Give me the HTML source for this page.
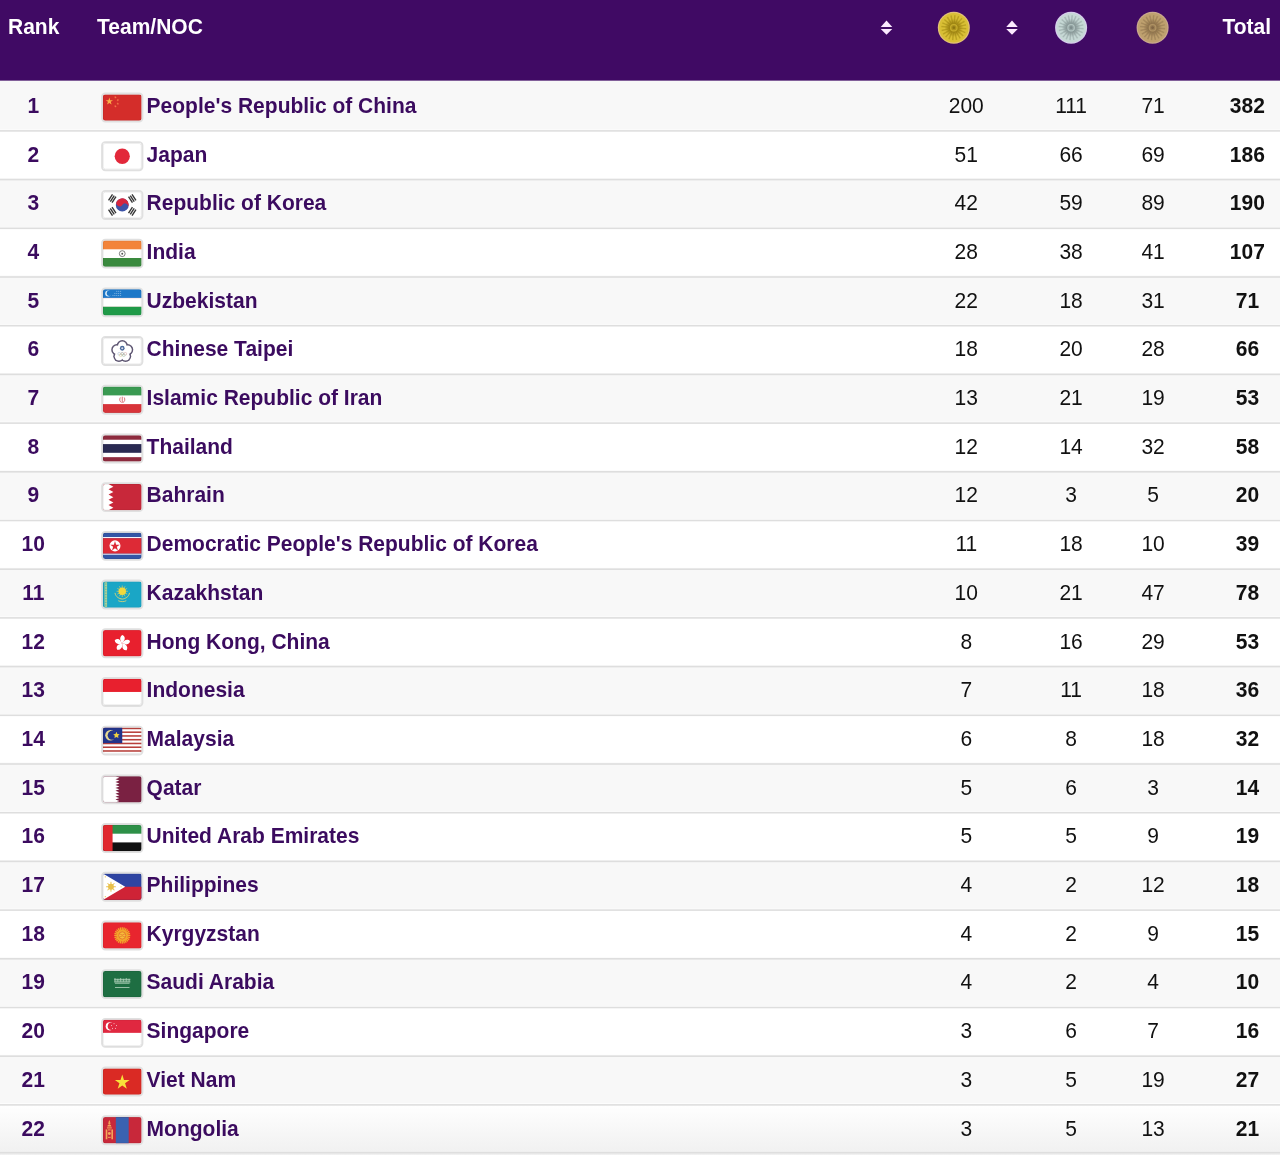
<!DOCTYPE html><html><head><meta charset="utf-8"><title>Medal Table</title><style>
*{margin:0;padding:0;box-sizing:border-box}
html,body{width:1280px;height:1155px;overflow:hidden;background:#fff}
body{font-family:"Liberation Sans",sans-serif;position:relative}
.bg{position:absolute;left:0;top:0;display:block}
.ht{position:absolute;top:0.7px;height:52px;line-height:52px;color:#fff;font-weight:bold;font-size:21.0px;white-space:nowrap}
.row{position:absolute;left:0;width:1280px;height:48.7px}
.c{position:absolute;top:0;height:47px;line-height:47px;font-size:21.0px;white-space:nowrap;padding-top:1.4px}
.rk{left:0;width:66.6px;text-align:center;color:#3b0b5f;font-weight:bold}
.nm{left:146.6px;color:#3b0b5f;font-weight:bold}
.n{width:80px;text-align:center;color:#111}
.tot{left:1207.4px;width:80px;text-align:center;font-weight:bold;color:#111}
.n,.tot,.rk{transform:scaleY(1.07);transform-origin:0 32.4px}
.nm{transform:scaleY(1.03);transform-origin:0 32.4px}
.ht{transform:scaleY(1.055);transform-origin:0 33.5px}
</style></head><body>
<svg class="bg" width="1280" height="1155" viewBox="0 0 1280 1155"><rect x="0" y="0" width="1280" height="80.8" fill="#400a64"/><rect x="0" y="80.80" width="1280" height="48.70" fill="#f8f8f8"/><rect x="0" y="178.20" width="1280" height="48.70" fill="#f8f8f8"/><rect x="0" y="275.60" width="1280" height="48.70" fill="#f8f8f8"/><rect x="0" y="373.00" width="1280" height="48.70" fill="#f8f8f8"/><rect x="0" y="470.40" width="1280" height="48.70" fill="#f8f8f8"/><rect x="0" y="567.80" width="1280" height="48.70" fill="#f8f8f8"/><rect x="0" y="665.20" width="1280" height="48.70" fill="#f8f8f8"/><rect x="0" y="762.60" width="1280" height="48.70" fill="#f8f8f8"/><rect x="0" y="860.00" width="1280" height="48.70" fill="#f8f8f8"/><rect x="0" y="957.40" width="1280" height="48.70" fill="#f8f8f8"/><rect x="0" y="1054.80" width="1280" height="48.70" fill="#f8f8f8"/><defs><linearGradient id="lastg" x1="0" y1="0" x2="0" y2="1"><stop offset="0" stop-color="#ffffff"/><stop offset="1" stop-color="#f0f0f0"/></linearGradient></defs><rect x="0" y="1103.50" width="1280" height="51.50" fill="url(#lastg)"/><rect x="0" y="130.10" width="1280" height="1.6" fill="#dedede"/><rect x="0" y="178.80" width="1280" height="1.6" fill="#dedede"/><rect x="0" y="227.50" width="1280" height="1.6" fill="#dedede"/><rect x="0" y="276.20" width="1280" height="1.6" fill="#dedede"/><rect x="0" y="324.90" width="1280" height="1.6" fill="#dedede"/><rect x="0" y="373.60" width="1280" height="1.6" fill="#dedede"/><rect x="0" y="422.30" width="1280" height="1.6" fill="#dedede"/><rect x="0" y="471.00" width="1280" height="1.6" fill="#dedede"/><rect x="0" y="519.70" width="1280" height="1.6" fill="#dedede"/><rect x="0" y="568.40" width="1280" height="1.6" fill="#dedede"/><rect x="0" y="617.10" width="1280" height="1.6" fill="#dedede"/><rect x="0" y="665.80" width="1280" height="1.6" fill="#dedede"/><rect x="0" y="714.50" width="1280" height="1.6" fill="#dedede"/><rect x="0" y="763.20" width="1280" height="1.6" fill="#dedede"/><rect x="0" y="811.90" width="1280" height="1.6" fill="#dedede"/><rect x="0" y="860.60" width="1280" height="1.6" fill="#dedede"/><rect x="0" y="909.30" width="1280" height="1.6" fill="#dedede"/><rect x="0" y="958.00" width="1280" height="1.6" fill="#dedede"/><rect x="0" y="1006.70" width="1280" height="1.6" fill="#dedede"/><rect x="0" y="1055.40" width="1280" height="1.6" fill="#dedede"/><rect x="0" y="1104.10" width="1280" height="1.6" fill="#dedede"/><rect x="0" y="1151.90" width="1280" height="1.6" fill="#dedede"/><path d="M886.50 20.40 L892.25 26.90 L880.75 26.90 Z" fill="#fbeaff"/><path d="M880.75 29.00 L892.25 29.00 L886.50 34.70 Z" fill="#fbeaff"/><path d="M1012.00 20.40 L1017.75 26.90 L1006.25 26.90 Z" fill="#fbeaff"/><path d="M1006.25 29.00 L1017.75 29.00 L1012.00 34.70 Z" fill="#fbeaff"/><defs><radialGradient id="gm" cx="953.80" cy="27.70" r="15" gradientUnits="userSpaceOnUse"><stop offset="0" stop-color="#ac921e"/><stop offset="0.3" stop-color="#ac921e"/><stop offset="0.62" stop-color="#d9bf36"/><stop offset="1" stop-color="#d9bf36"/></radialGradient><filter id="fgm" x="-20%" y="-20%" width="140%" height="140%"><feGaussianBlur stdDeviation="0.6"/></filter><filter id="hgm" x="-20%" y="-20%" width="140%" height="140%"><feGaussianBlur stdDeviation="0.5"/></filter></defs><g filter="url(#fgm)"><circle cx="953.80" cy="27.70" r="16" fill="#e2c178"/><circle cx="953.80" cy="27.70" r="14.8" fill="url(#gm)"/></g><g filter="url(#hgm)"><g stroke="#8a7210" stroke-width="1.5" opacity="0.38"><line x1="957.78" y1="28.05" x2="966.25" y2="28.79"/><line x1="957.48" y1="29.26" x2="965.31" y2="32.58"/><line x1="956.82" y1="30.32" x2="963.23" y2="35.90"/><line x1="955.86" y1="31.13" x2="960.24" y2="38.41"/><line x1="954.70" y1="31.60" x2="956.61" y2="39.88"/><line x1="953.45" y1="31.68" x2="952.71" y2="40.15"/><line x1="952.24" y1="31.38" x2="948.92" y2="39.21"/><line x1="951.18" y1="30.72" x2="945.60" y2="37.13"/><line x1="950.37" y1="29.76" x2="943.09" y2="34.14"/><line x1="949.90" y1="28.60" x2="941.62" y2="30.51"/><line x1="949.82" y1="27.35" x2="941.35" y2="26.61"/><line x1="950.12" y1="26.14" x2="942.29" y2="22.82"/><line x1="950.78" y1="25.08" x2="944.37" y2="19.50"/><line x1="951.74" y1="24.27" x2="947.36" y2="16.99"/><line x1="952.90" y1="23.80" x2="950.99" y2="15.52"/><line x1="954.15" y1="23.72" x2="954.89" y2="15.25"/><line x1="955.36" y1="24.02" x2="958.68" y2="16.19"/><line x1="956.42" y1="24.68" x2="962.00" y2="18.27"/><line x1="957.23" y1="25.64" x2="964.51" y2="21.26"/><line x1="957.70" y1="26.80" x2="965.98" y2="24.89"/></g><circle cx="953.80" cy="27.70" r="3.2" fill="none" stroke="#d9bf36" stroke-width="1.2" opacity="0.6"/><circle cx="953.80" cy="27.70" r="1.4" fill="#8a7210" opacity="0.9"/></g><defs><radialGradient id="sm" cx="1071.10" cy="27.70" r="15" gradientUnits="userSpaceOnUse"><stop offset="0" stop-color="#93a3a2"/><stop offset="0.3" stop-color="#93a3a2"/><stop offset="0.62" stop-color="#c6d8d5"/><stop offset="1" stop-color="#c6d8d5"/></radialGradient><filter id="fsm" x="-20%" y="-20%" width="140%" height="140%"><feGaussianBlur stdDeviation="0.6"/></filter><filter id="hsm" x="-20%" y="-20%" width="140%" height="140%"><feGaussianBlur stdDeviation="0.5"/></filter></defs><g filter="url(#fsm)"><circle cx="1071.10" cy="27.70" r="16" fill="#d6cdec"/><circle cx="1071.10" cy="27.70" r="14.8" fill="url(#sm)"/></g><g filter="url(#hsm)"><g stroke="#7a8a8a" stroke-width="1.5" opacity="0.38"><line x1="1075.08" y1="28.05" x2="1083.55" y2="28.79"/><line x1="1074.78" y1="29.26" x2="1082.61" y2="32.58"/><line x1="1074.12" y1="30.32" x2="1080.53" y2="35.90"/><line x1="1073.16" y1="31.13" x2="1077.54" y2="38.41"/><line x1="1072.00" y1="31.60" x2="1073.91" y2="39.88"/><line x1="1070.75" y1="31.68" x2="1070.01" y2="40.15"/><line x1="1069.54" y1="31.38" x2="1066.22" y2="39.21"/><line x1="1068.48" y1="30.72" x2="1062.90" y2="37.13"/><line x1="1067.67" y1="29.76" x2="1060.39" y2="34.14"/><line x1="1067.20" y1="28.60" x2="1058.92" y2="30.51"/><line x1="1067.12" y1="27.35" x2="1058.65" y2="26.61"/><line x1="1067.42" y1="26.14" x2="1059.59" y2="22.82"/><line x1="1068.08" y1="25.08" x2="1061.67" y2="19.50"/><line x1="1069.04" y1="24.27" x2="1064.66" y2="16.99"/><line x1="1070.20" y1="23.80" x2="1068.29" y2="15.52"/><line x1="1071.45" y1="23.72" x2="1072.19" y2="15.25"/><line x1="1072.66" y1="24.02" x2="1075.98" y2="16.19"/><line x1="1073.72" y1="24.68" x2="1079.30" y2="18.27"/><line x1="1074.53" y1="25.64" x2="1081.81" y2="21.26"/><line x1="1075.00" y1="26.80" x2="1083.28" y2="24.89"/></g><circle cx="1071.10" cy="27.70" r="3.2" fill="none" stroke="#c6d8d5" stroke-width="1.2" opacity="0.6"/><circle cx="1071.10" cy="27.70" r="1.4" fill="#7a8a8a" opacity="0.9"/></g><defs><radialGradient id="bm" cx="1152.60" cy="27.70" r="15" gradientUnits="userSpaceOnUse"><stop offset="0" stop-color="#9a7e54"/><stop offset="0.3" stop-color="#9a7e54"/><stop offset="0.62" stop-color="#bea06e"/><stop offset="1" stop-color="#bea06e"/></radialGradient><filter id="fbm" x="-20%" y="-20%" width="140%" height="140%"><feGaussianBlur stdDeviation="0.6"/></filter><filter id="hbm" x="-20%" y="-20%" width="140%" height="140%"><feGaussianBlur stdDeviation="0.5"/></filter></defs><g filter="url(#fbm)"><circle cx="1152.60" cy="27.70" r="16" fill="#c9a88e"/><circle cx="1152.60" cy="27.70" r="14.8" fill="url(#bm)"/></g><g filter="url(#hbm)"><g stroke="#7c6242" stroke-width="1.5" opacity="0.38"><line x1="1156.58" y1="28.05" x2="1165.05" y2="28.79"/><line x1="1156.28" y1="29.26" x2="1164.11" y2="32.58"/><line x1="1155.62" y1="30.32" x2="1162.03" y2="35.90"/><line x1="1154.66" y1="31.13" x2="1159.04" y2="38.41"/><line x1="1153.50" y1="31.60" x2="1155.41" y2="39.88"/><line x1="1152.25" y1="31.68" x2="1151.51" y2="40.15"/><line x1="1151.04" y1="31.38" x2="1147.72" y2="39.21"/><line x1="1149.98" y1="30.72" x2="1144.40" y2="37.13"/><line x1="1149.17" y1="29.76" x2="1141.89" y2="34.14"/><line x1="1148.70" y1="28.60" x2="1140.42" y2="30.51"/><line x1="1148.62" y1="27.35" x2="1140.15" y2="26.61"/><line x1="1148.92" y1="26.14" x2="1141.09" y2="22.82"/><line x1="1149.58" y1="25.08" x2="1143.17" y2="19.50"/><line x1="1150.54" y1="24.27" x2="1146.16" y2="16.99"/><line x1="1151.70" y1="23.80" x2="1149.79" y2="15.52"/><line x1="1152.95" y1="23.72" x2="1153.69" y2="15.25"/><line x1="1154.16" y1="24.02" x2="1157.48" y2="16.19"/><line x1="1155.22" y1="24.68" x2="1160.80" y2="18.27"/><line x1="1156.03" y1="25.64" x2="1163.31" y2="21.26"/><line x1="1156.50" y1="26.80" x2="1164.78" y2="24.89"/></g><circle cx="1152.60" cy="27.70" r="3.2" fill="none" stroke="#bea06e" stroke-width="1.2" opacity="0.6"/><circle cx="1152.60" cy="27.70" r="1.4" fill="#7c6242" opacity="0.9"/></g><rect x="102.00" y="93.50" width="40.50" height="28.10" rx="3.3" fill="#fff" stroke="#e0e0e0" stroke-width="1.8"/><clipPath id="ccn"><rect x="102.90" y="94.40" width="38.7" height="26.3" rx="2.4"/></clipPath><g clip-path="url(#ccn)"><g transform="translate(102.90 94.40) scale(0.80625 0.82188)"><rect width="48" height="32" fill="#d42d2a"/><polygon points="8.00,3.70 9.08,7.02 12.57,7.02 9.74,9.07 10.82,12.38 8.00,10.33 5.18,12.38 6.26,9.07 3.43,7.02 6.92,7.02" fill="#fbb04a"/><polygon points="16.08,2.00 16.04,3.24 17.20,3.66 16.01,4.00 15.97,5.23 15.28,4.21 14.09,4.55 14.85,3.58 14.16,2.55 15.32,2.98" fill="#f7804e"/><polygon points="19.59,5.70 19.13,6.84 20.08,7.64 18.84,7.55 18.38,8.70 18.08,7.50 16.85,7.41 17.90,6.76 17.60,5.56 18.55,6.35" fill="#f7804e"/><polygon points="18.50,9.50 18.88,10.67 20.12,10.67 19.12,11.40 19.50,12.58 18.50,11.85 17.50,12.58 17.88,11.40 16.88,10.67 18.12,10.67" fill="#f7804e"/><polygon points="16.08,12.90 16.04,14.14 17.20,14.56 16.01,14.90 15.97,16.13 15.28,15.11 14.09,15.45 14.85,14.48 14.16,13.45 15.32,13.88" fill="#f7804e"/></g></g><rect x="103.25" y="94.75" width="38.00" height="25.60" rx="2.2" fill="none" stroke="rgba(0,0,0,0.10)" stroke-width="0.7"/><rect x="102.00" y="142.20" width="40.50" height="28.10" rx="3.3" fill="#fff" stroke="#e0e0e0" stroke-width="1.8"/><clipPath id="cjp"><rect x="102.90" y="143.10" width="38.7" height="26.3" rx="2.4"/></clipPath><g clip-path="url(#cjp)"><g transform="translate(102.90 143.10) scale(0.80625 0.82188)"><rect width="48" height="32" fill="#fff"/><circle cx="24" cy="16" r="9.4" fill="#e2283a"/></g></g><rect x="103.25" y="143.45" width="38.00" height="25.60" rx="2.2" fill="none" stroke="rgba(0,0,0,0.10)" stroke-width="0.7"/><rect x="102.00" y="190.90" width="40.50" height="28.10" rx="3.3" fill="#fff" stroke="#e0e0e0" stroke-width="1.8"/><clipPath id="ckr"><rect x="102.90" y="191.80" width="38.7" height="26.3" rx="2.4"/></clipPath><g clip-path="url(#ckr)"><g transform="translate(102.90 191.80) scale(0.80625 0.82188)"><rect width="48" height="32" fill="#fff"/><circle cx="24" cy="16" r="8" fill="#3c53a8"/><path d="M16 16 A8 8 0 0 1 32 16 A4 4 0 0 0 24 16 A4 4 0 0 1 16 16Z" fill="#d6263e" transform="rotate(33.7 24 16)"/><g transform="translate(11.60 8.20) rotate(-56.3)"><rect x="-4.4" y="-3.45" width="8.8" height="1.7" fill="#353535"/><rect x="-4.4" y="-0.85" width="8.8" height="1.7" fill="#353535"/><rect x="-4.4" y="1.75" width="8.8" height="1.7" fill="#353535"/></g><g transform="translate(36.40 8.20) rotate(56.3)"><rect x="-4.4" y="-3.45" width="8.8" height="1.7" fill="#353535"/><rect x="-4.4" y="-0.85" width="8.8" height="1.7" fill="#353535"/><rect x="-4.4" y="1.75" width="8.8" height="1.7" fill="#353535"/></g><g transform="translate(11.60 23.80) rotate(56.3)"><rect x="-4.4" y="-3.45" width="8.8" height="1.7" fill="#353535"/><rect x="-4.4" y="-0.85" width="8.8" height="1.7" fill="#353535"/><rect x="-4.4" y="1.75" width="8.8" height="1.7" fill="#353535"/></g><g transform="translate(36.40 23.80) rotate(-56.3)"><rect x="-4.4" y="-3.45" width="8.8" height="1.7" fill="#353535"/><rect x="-4.4" y="-0.85" width="8.8" height="1.7" fill="#353535"/><rect x="-4.4" y="1.75" width="8.8" height="1.7" fill="#353535"/></g></g></g><rect x="103.25" y="192.15" width="38.00" height="25.60" rx="2.2" fill="none" stroke="rgba(0,0,0,0.10)" stroke-width="0.7"/><rect x="102.00" y="239.60" width="40.50" height="28.10" rx="3.3" fill="#fff" stroke="#e0e0e0" stroke-width="1.8"/><clipPath id="cin"><rect x="102.90" y="240.50" width="38.7" height="26.3" rx="2.4"/></clipPath><g clip-path="url(#cin)"><g transform="translate(102.90 240.50) scale(0.80625 0.82188)"><rect width="48" height="32" fill="#fff"/><rect width="48" height="10.7" fill="#f3843a"/><rect y="21.3" width="48" height="10.7" fill="#3a8a3e"/><circle cx="24" cy="16" r="3.6" fill="none" stroke="#555" stroke-width="0.9"/><circle cx="24" cy="16" r="1.2" fill="#555"/></g></g><rect x="103.25" y="240.85" width="38.00" height="25.60" rx="2.2" fill="none" stroke="rgba(0,0,0,0.10)" stroke-width="0.7"/><rect x="102.00" y="288.30" width="40.50" height="28.10" rx="3.3" fill="#fff" stroke="#e0e0e0" stroke-width="1.8"/><clipPath id="cuz"><rect x="102.90" y="289.20" width="38.7" height="26.3" rx="2.4"/></clipPath><g clip-path="url(#cuz)"><g transform="translate(102.90 289.20) scale(0.80625 0.82188)"><rect width="48" height="32" fill="#fff"/><rect width="48" height="10.6" fill="#1f78c8"/><rect y="10.6" width="48" height="0.6" fill="#e07a7a" opacity="0.35"/><rect y="20.8" width="48" height="0.6" fill="#e07a7a" opacity="0.35"/><rect y="21.4" width="48" height="10.6" fill="#1f9a48"/><circle cx="6.5" cy="5.3" r="3.7" fill="#d8ecfa"/><circle cx="8.1" cy="5.0" r="3.3" fill="#1f78c8"/><circle cx="12.5" cy="7.6" r="0.6" fill="#cfe4f5"/><circle cx="14.9" cy="5.1" r="0.6" fill="#cfe4f5"/><circle cx="14.9" cy="7.6" r="0.6" fill="#cfe4f5"/><circle cx="17.3" cy="2.6" r="0.6" fill="#cfe4f5"/><circle cx="17.3" cy="5.1" r="0.6" fill="#cfe4f5"/><circle cx="17.3" cy="7.6" r="0.6" fill="#cfe4f5"/><circle cx="19.7" cy="2.6" r="0.6" fill="#cfe4f5"/><circle cx="19.7" cy="5.1" r="0.6" fill="#cfe4f5"/><circle cx="19.7" cy="7.6" r="0.6" fill="#cfe4f5"/><circle cx="22.1" cy="2.6" r="0.6" fill="#cfe4f5"/><circle cx="22.1" cy="5.1" r="0.6" fill="#cfe4f5"/><circle cx="22.1" cy="7.6" r="0.6" fill="#cfe4f5"/></g></g><rect x="103.25" y="289.55" width="38.00" height="25.60" rx="2.2" fill="none" stroke="rgba(0,0,0,0.10)" stroke-width="0.7"/><rect x="102.00" y="337.00" width="40.50" height="28.10" rx="3.3" fill="#fff" stroke="#e0e0e0" stroke-width="1.8"/><clipPath id="ctpe"><rect x="102.90" y="337.90" width="38.7" height="26.3" rx="2.4"/></clipPath><g clip-path="url(#ctpe)"><g transform="translate(102.90 337.90) scale(0.80625 0.82188)"><rect width="48" height="32" fill="#fff"/><circle cx="24.00" cy="9.60" r="7.0" fill="#5e5672"/><circle cx="30.66" cy="14.44" r="7.0" fill="#5e5672"/><circle cx="28.11" cy="22.26" r="7.0" fill="#5e5672"/><circle cx="19.89" cy="22.26" r="7.0" fill="#5e5672"/><circle cx="17.34" cy="14.44" r="7.0" fill="#5e5672"/><circle cx="24.00" cy="9.60" r="5.2" fill="#fff"/><circle cx="30.66" cy="14.44" r="5.2" fill="#fff"/><circle cx="28.11" cy="22.26" r="5.2" fill="#fff"/><circle cx="19.89" cy="22.26" r="5.2" fill="#fff"/><circle cx="17.34" cy="14.44" r="5.2" fill="#fff"/><circle cx="24" cy="16.6" r="7.2" fill="#fff"/><circle cx="24" cy="12.6" r="2.9" fill="#4a6a9a"/><circle cx="24" cy="12.6" r="1.3" fill="#dde"/><g fill="none" stroke-width="0.7" opacity="0.7"><circle cx="20.2" cy="19.4" r="1.7" stroke="#8aa0c0"/><circle cx="24" cy="19.4" r="1.7" stroke="#666"/><circle cx="27.8" cy="19.4" r="1.7" stroke="#c08080"/><circle cx="22.1" cy="21" r="1.7" stroke="#d0b870"/><circle cx="25.9" cy="21" r="1.7" stroke="#80a888"/></g></g></g><rect x="103.25" y="338.25" width="38.00" height="25.60" rx="2.2" fill="none" stroke="rgba(0,0,0,0.10)" stroke-width="0.7"/><rect x="102.00" y="385.70" width="40.50" height="28.10" rx="3.3" fill="#fff" stroke="#e0e0e0" stroke-width="1.8"/><clipPath id="cir"><rect x="102.90" y="386.60" width="38.7" height="26.3" rx="2.4"/></clipPath><g clip-path="url(#cir)"><g transform="translate(102.90 386.60) scale(0.80625 0.82188)"><rect width="48" height="32" fill="#fff"/><rect width="48" height="10.7" fill="#3a9a52"/><rect y="21.3" width="48" height="10.7" fill="#d8343a"/><path d="M24 12.3 V19.8 M21.6 13.2 C20.2 15.5 20.8 18.3 23 19.3 M26.4 13.2 C27.8 15.5 27.2 18.3 25 19.3" stroke="#d04048" stroke-width="0.9" fill="none"/></g></g><rect x="103.25" y="386.95" width="38.00" height="25.60" rx="2.2" fill="none" stroke="rgba(0,0,0,0.10)" stroke-width="0.7"/><rect x="102.00" y="434.40" width="40.50" height="28.10" rx="3.3" fill="#fff" stroke="#e0e0e0" stroke-width="1.8"/><clipPath id="cth"><rect x="102.90" y="435.30" width="38.7" height="26.3" rx="2.4"/></clipPath><g clip-path="url(#cth)"><g transform="translate(102.90 435.30) scale(0.80625 0.82188)"><rect width="48" height="32" fill="#fff"/><rect width="48" height="5.4" fill="#8e2b3e"/><rect y="26.6" width="48" height="5.4" fill="#8e2b3e"/><rect y="10.7" width="48" height="10.6" fill="#2a2a52"/></g></g><rect x="103.25" y="435.65" width="38.00" height="25.60" rx="2.2" fill="none" stroke="rgba(0,0,0,0.10)" stroke-width="0.7"/><rect x="102.00" y="483.10" width="40.50" height="28.10" rx="3.3" fill="#fff" stroke="#e0e0e0" stroke-width="1.8"/><clipPath id="cbh"><rect x="102.90" y="484.00" width="38.7" height="26.3" rx="2.4"/></clipPath><g clip-path="url(#cbh)"><g transform="translate(102.90 484.00) scale(0.80625 0.82188)"><rect width="48" height="32" fill="#c8283a"/><polygon points="0,0 7.00,0 13.00,3.20 7.00,6.40 13.00,9.60 7.00,12.80 13.00,16.00 7.00,19.20 13.00,22.40 7.00,25.60 13.00,28.80 7.00,32.00 0,32" fill="#fff"/></g></g><rect x="103.25" y="484.35" width="38.00" height="25.60" rx="2.2" fill="none" stroke="rgba(0,0,0,0.10)" stroke-width="0.7"/><rect x="102.00" y="531.80" width="40.50" height="28.10" rx="3.3" fill="#fff" stroke="#e0e0e0" stroke-width="1.8"/><clipPath id="ckp"><rect x="102.90" y="532.70" width="38.7" height="26.3" rx="2.4"/></clipPath><g clip-path="url(#ckp)"><g transform="translate(102.90 532.70) scale(0.80625 0.82188)"><rect width="48" height="32" fill="#3356a6"/><rect y="5.3" width="48" height="1.4" fill="#fff"/><rect y="25.3" width="48" height="1.4" fill="#fff"/><rect y="6.7" width="48" height="18.6" fill="#dd2a36"/><circle cx="15" cy="16" r="6.8" fill="#fff"/><polygon points="15.00,10.20 16.41,14.55 20.99,14.55 17.29,17.24 18.70,21.60 15.00,18.91 11.30,21.60 12.71,17.24 9.01,14.55 13.59,14.55" fill="#dd2a36"/></g></g><rect x="103.25" y="533.05" width="38.00" height="25.60" rx="2.2" fill="none" stroke="rgba(0,0,0,0.10)" stroke-width="0.7"/><rect x="102.00" y="580.50" width="40.50" height="28.10" rx="3.3" fill="#fff" stroke="#e0e0e0" stroke-width="1.8"/><clipPath id="ckz"><rect x="102.90" y="581.40" width="38.7" height="26.3" rx="2.4"/></clipPath><g clip-path="url(#ckz)"><g transform="translate(102.90 581.40) scale(0.80625 0.82188)"><rect width="48" height="32" fill="#1aa6c6"/><rect x="2" y="1" width="3.2" height="30" fill="#c9d88a" opacity="0.85"/><rect x="2.6" y="2.5" width="2" height="1.4" fill="#1aa6c6" opacity="0.5"/><rect x="2.6" y="5.7" width="2" height="1.4" fill="#1aa6c6" opacity="0.5"/><rect x="2.6" y="8.9" width="2" height="1.4" fill="#1aa6c6" opacity="0.5"/><rect x="2.6" y="12.1" width="2" height="1.4" fill="#1aa6c6" opacity="0.5"/><rect x="2.6" y="15.3" width="2" height="1.4" fill="#1aa6c6" opacity="0.5"/><rect x="2.6" y="18.5" width="2" height="1.4" fill="#1aa6c6" opacity="0.5"/><rect x="2.6" y="21.7" width="2" height="1.4" fill="#1aa6c6" opacity="0.5"/><rect x="2.6" y="24.9" width="2" height="1.4" fill="#1aa6c6" opacity="0.5"/><rect x="2.6" y="28.1" width="2" height="1.4" fill="#1aa6c6" opacity="0.5"/><line x1="24" y1="12" x2="31.00" y2="12.00" stroke="#e8d060" stroke-width="0.8"/><line x1="24" y1="12" x2="30.06" y2="15.50" stroke="#e8d060" stroke-width="0.8"/><line x1="24" y1="12" x2="27.50" y2="18.06" stroke="#e8d060" stroke-width="0.8"/><line x1="24" y1="12" x2="24.00" y2="19.00" stroke="#e8d060" stroke-width="0.8"/><line x1="24" y1="12" x2="20.50" y2="18.06" stroke="#e8d060" stroke-width="0.8"/><line x1="24" y1="12" x2="17.94" y2="15.50" stroke="#e8d060" stroke-width="0.8"/><line x1="24" y1="12" x2="17.00" y2="12.00" stroke="#e8d060" stroke-width="0.8"/><line x1="24" y1="12" x2="17.94" y2="8.50" stroke="#e8d060" stroke-width="0.8"/><line x1="24" y1="12" x2="20.50" y2="5.94" stroke="#e8d060" stroke-width="0.8"/><line x1="24" y1="12" x2="24.00" y2="5.00" stroke="#e8d060" stroke-width="0.8"/><line x1="24" y1="12" x2="27.50" y2="5.94" stroke="#e8d060" stroke-width="0.8"/><line x1="24" y1="12" x2="30.06" y2="8.50" stroke="#e8d060" stroke-width="0.8"/><circle cx="24" cy="12" r="4.6" fill="#f2d83c"/><path d="M15 14 C16 19 20 21 24 21.5 C28 21 32 19 33 14" stroke="#e2d470" stroke-width="1.1" fill="none"/><path d="M19 23.5 C22 25 26 25 29 23.5" stroke="#e2d470" stroke-width="1" fill="none"/></g></g><rect x="103.25" y="581.75" width="38.00" height="25.60" rx="2.2" fill="none" stroke="rgba(0,0,0,0.10)" stroke-width="0.7"/><rect x="102.00" y="629.20" width="40.50" height="28.10" rx="3.3" fill="#fff" stroke="#e0e0e0" stroke-width="1.8"/><clipPath id="chk"><rect x="102.90" y="630.10" width="38.7" height="26.3" rx="2.4"/></clipPath><g clip-path="url(#chk)"><g transform="translate(102.90 630.10) scale(0.80625 0.82188)"><rect width="48" height="32" fill="#e8202e"/><path d="M24 16 C20.5 13 20.5 7.5 24.5 6 C27.5 7.5 28 11 26 13 Z" fill="#fff" transform="rotate(0 24 16)"/><path d="M24 16 C20.5 13 20.5 7.5 24.5 6 C27.5 7.5 28 11 26 13 Z" fill="#fff" transform="rotate(72 24 16)"/><path d="M24 16 C20.5 13 20.5 7.5 24.5 6 C27.5 7.5 28 11 26 13 Z" fill="#fff" transform="rotate(144 24 16)"/><path d="M24 16 C20.5 13 20.5 7.5 24.5 6 C27.5 7.5 28 11 26 13 Z" fill="#fff" transform="rotate(216 24 16)"/><path d="M24 16 C20.5 13 20.5 7.5 24.5 6 C27.5 7.5 28 11 26 13 Z" fill="#fff" transform="rotate(288 24 16)"/></g></g><rect x="103.25" y="630.45" width="38.00" height="25.60" rx="2.2" fill="none" stroke="rgba(0,0,0,0.10)" stroke-width="0.7"/><rect x="102.00" y="677.90" width="40.50" height="28.10" rx="3.3" fill="#fff" stroke="#e0e0e0" stroke-width="1.8"/><clipPath id="cid"><rect x="102.90" y="678.80" width="38.7" height="26.3" rx="2.4"/></clipPath><g clip-path="url(#cid)"><g transform="translate(102.90 678.80) scale(0.80625 0.82188)"><rect width="48" height="32" fill="#fff"/><rect width="48" height="16" fill="#e8202e"/></g></g><rect x="103.25" y="679.15" width="38.00" height="25.60" rx="2.2" fill="none" stroke="rgba(0,0,0,0.10)" stroke-width="0.7"/><rect x="102.00" y="726.60" width="40.50" height="28.10" rx="3.3" fill="#fff" stroke="#e0e0e0" stroke-width="1.8"/><clipPath id="cmy"><rect x="102.90" y="727.50" width="38.7" height="26.3" rx="2.4"/></clipPath><g clip-path="url(#cmy)"><g transform="translate(102.90 727.50) scale(0.80625 0.82188)"><rect width="48" height="32" fill="#fff"/><rect y="0.20" width="48" height="1.89" fill="#b8403c"/><rect y="4.77" width="48" height="1.89" fill="#b8403c"/><rect y="9.34" width="48" height="1.89" fill="#b8403c"/><rect y="13.91" width="48" height="1.89" fill="#b8403c"/><rect y="18.49" width="48" height="1.89" fill="#b8403c"/><rect y="23.06" width="48" height="1.89" fill="#b8403c"/><rect y="27.63" width="48" height="1.89" fill="#b8403c"/><rect width="24" height="19" fill="#22338a"/><circle cx="9.3" cy="9.5" r="6.4" fill="#e6d890"/><circle cx="11.3" cy="9.5" r="5.4" fill="#22338a"/><polygon points="16.80,5.30 18.03,7.80 20.79,8.20 18.80,10.15 19.27,12.90 16.80,11.60 14.33,12.90 14.80,10.15 12.81,8.20 15.57,7.80" fill="#f0d040"/></g></g><rect x="103.25" y="727.85" width="38.00" height="25.60" rx="2.2" fill="none" stroke="rgba(0,0,0,0.10)" stroke-width="0.7"/><rect x="102.00" y="775.30" width="40.50" height="28.10" rx="3.3" fill="#fff" stroke="#e0e0e0" stroke-width="1.8"/><clipPath id="cqa"><rect x="102.90" y="776.20" width="38.7" height="26.3" rx="2.4"/></clipPath><g clip-path="url(#cqa)"><g transform="translate(102.90 776.20) scale(0.80625 0.82188)"><rect width="48" height="32" fill="#7a2142"/><polygon points="0,0 15.50,0 20.50,1.78 15.50,3.56 20.50,5.33 15.50,7.11 20.50,8.89 15.50,10.67 20.50,12.44 15.50,14.22 20.50,16.00 15.50,17.78 20.50,19.56 15.50,21.33 20.50,23.11 15.50,24.89 20.50,26.67 15.50,28.44 20.50,30.22 15.50,32.00 0,32" fill="#fff"/></g></g><rect x="103.25" y="776.55" width="38.00" height="25.60" rx="2.2" fill="none" stroke="rgba(0,0,0,0.10)" stroke-width="0.7"/><rect x="102.00" y="824.00" width="40.50" height="28.10" rx="3.3" fill="#fff" stroke="#e0e0e0" stroke-width="1.8"/><clipPath id="cae"><rect x="102.90" y="824.90" width="38.7" height="26.3" rx="2.4"/></clipPath><g clip-path="url(#cae)"><g transform="translate(102.90 824.90) scale(0.80625 0.82188)"><rect width="48" height="32" fill="#fff"/><rect width="48" height="10.7" fill="#2e9048"/><rect y="21.3" width="48" height="10.7" fill="#111"/><rect width="12" height="32" fill="#e0282e"/></g></g><rect x="103.25" y="825.25" width="38.00" height="25.60" rx="2.2" fill="none" stroke="rgba(0,0,0,0.10)" stroke-width="0.7"/><rect x="102.00" y="872.70" width="40.50" height="28.10" rx="3.3" fill="#fff" stroke="#e0e0e0" stroke-width="1.8"/><clipPath id="cph"><rect x="102.90" y="873.60" width="38.7" height="26.3" rx="2.4"/></clipPath><g clip-path="url(#cph)"><g transform="translate(102.90 873.60) scale(0.80625 0.82188)"><rect width="48" height="32" fill="#2e44a2"/><rect y="16" width="48" height="16" fill="#cf2336"/><polygon points="0,0 27.7,16 0,32" fill="#fff"/><rect x="9.4" y="10" width="1.2" height="12" fill="#e8c04a" transform="rotate(0 10 16)"/><rect x="9.4" y="10" width="1.2" height="12" fill="#e8c04a" transform="rotate(45 10 16)"/><rect x="9.4" y="10" width="1.2" height="12" fill="#e8c04a" transform="rotate(90 10 16)"/><rect x="9.4" y="10" width="1.2" height="12" fill="#e8c04a" transform="rotate(135 10 16)"/><circle cx="10" cy="16" r="3.6" fill="#e8c04a"/><polygon points="3.00,2.80 3.27,3.63 4.14,3.63 3.44,4.14 3.71,4.97 3.00,4.46 2.29,4.97 2.56,4.14 1.86,3.63 2.73,3.63" fill="#e8c04a"/><polygon points="3.00,26.80 3.27,27.63 4.14,27.63 3.44,28.14 3.71,28.97 3.00,28.46 2.29,28.97 2.56,28.14 1.86,27.63 2.73,27.63" fill="#e8c04a"/><polygon points="22.50,14.80 22.77,15.63 23.64,15.63 22.94,16.14 23.21,16.97 22.50,16.46 21.79,16.97 22.06,16.14 21.36,15.63 22.23,15.63" fill="#e8c04a"/></g></g><rect x="103.25" y="873.95" width="38.00" height="25.60" rx="2.2" fill="none" stroke="rgba(0,0,0,0.10)" stroke-width="0.7"/><rect x="102.00" y="921.40" width="40.50" height="28.10" rx="3.3" fill="#fff" stroke="#e0e0e0" stroke-width="1.8"/><clipPath id="ckg"><rect x="102.90" y="922.30" width="38.7" height="26.3" rx="2.4"/></clipPath><g clip-path="url(#ckg)"><g transform="translate(102.90 922.30) scale(0.80625 0.82188)"><rect width="48" height="32" fill="#e8252e"/><rect x="23.2" y="6" width="1.6" height="20" fill="#f2a82a" transform="rotate(0 24 16)"/><rect x="23.2" y="6" width="1.6" height="20" fill="#f2a82a" transform="rotate(15 24 16)"/><rect x="23.2" y="6" width="1.6" height="20" fill="#f2a82a" transform="rotate(30 24 16)"/><rect x="23.2" y="6" width="1.6" height="20" fill="#f2a82a" transform="rotate(45 24 16)"/><rect x="23.2" y="6" width="1.6" height="20" fill="#f2a82a" transform="rotate(60 24 16)"/><rect x="23.2" y="6" width="1.6" height="20" fill="#f2a82a" transform="rotate(75 24 16)"/><rect x="23.2" y="6" width="1.6" height="20" fill="#f2a82a" transform="rotate(90 24 16)"/><rect x="23.2" y="6" width="1.6" height="20" fill="#f2a82a" transform="rotate(105 24 16)"/><rect x="23.2" y="6" width="1.6" height="20" fill="#f2a82a" transform="rotate(120 24 16)"/><rect x="23.2" y="6" width="1.6" height="20" fill="#f2a82a" transform="rotate(135 24 16)"/><rect x="23.2" y="6" width="1.6" height="20" fill="#f2a82a" transform="rotate(150 24 16)"/><rect x="23.2" y="6" width="1.6" height="20" fill="#f2a82a" transform="rotate(165 24 16)"/><circle cx="24" cy="16" r="6.8" fill="#f2a82a"/><circle cx="24" cy="16" r="4.4" fill="#f5be3a" stroke="#e0602a" stroke-width="0.8"/><path d="M20.5 14 Q24 17 27.5 14 M20.5 18 Q24 15 27.5 18" stroke="#e0602a" stroke-width="0.7" fill="none"/></g></g><rect x="103.25" y="922.65" width="38.00" height="25.60" rx="2.2" fill="none" stroke="rgba(0,0,0,0.10)" stroke-width="0.7"/><rect x="102.00" y="970.10" width="40.50" height="28.10" rx="3.3" fill="#fff" stroke="#e0e0e0" stroke-width="1.8"/><clipPath id="csa"><rect x="102.90" y="971.00" width="38.7" height="26.3" rx="2.4"/></clipPath><g clip-path="url(#csa)"><g transform="translate(102.90 971.00) scale(0.80625 0.82188)"><rect width="48" height="32" fill="#1e6e42"/><g fill="none" stroke="#c0dcc8" stroke-width="0.9" opacity="0.9"><path d="M14 10.5 H34 M14 13.2 H34 M15 15 H33"/><path d="M15 8.5 V13 M18.5 9.5 V13 M22 8.5 V13 M25.5 9.5 V13 M29 8.5 V13 M32.5 9.5 V13"/></g><rect x="14" y="9" width="20" height="6" fill="#c0dcc8" opacity="0.25"/><rect x="15" y="19.6" width="18" height="0.8" fill="#d8eadc"/></g></g><rect x="103.25" y="971.35" width="38.00" height="25.60" rx="2.2" fill="none" stroke="rgba(0,0,0,0.10)" stroke-width="0.7"/><rect x="102.00" y="1018.80" width="40.50" height="28.10" rx="3.3" fill="#fff" stroke="#e0e0e0" stroke-width="1.8"/><clipPath id="csg"><rect x="102.90" y="1019.70" width="38.7" height="26.3" rx="2.4"/></clipPath><g clip-path="url(#csg)"><g transform="translate(102.90 1019.70) scale(0.80625 0.82188)"><rect width="48" height="32" fill="#fff"/><rect width="48" height="16" fill="#e02840"/><circle cx="8.5" cy="8" r="5" fill="#fff"/><circle cx="10.6" cy="8" r="4.6" fill="#e02840"/><polygon points="13.80,3.80 14.02,4.49 14.75,4.49 14.16,4.92 14.39,5.61 13.80,5.18 13.21,5.61 13.44,4.92 12.85,4.49 13.58,4.49" fill="#fff"/><polygon points="16.84,6.01 17.07,6.70 17.79,6.70 17.21,7.13 17.43,7.82 16.84,7.39 16.26,7.82 16.48,7.13 15.89,6.70 16.62,6.70" fill="#fff"/><polygon points="15.68,9.59 15.91,10.28 16.63,10.28 16.04,10.71 16.27,11.40 15.68,10.97 15.09,11.40 15.32,10.71 14.73,10.28 15.46,10.28" fill="#fff"/><polygon points="11.92,9.59 12.14,10.28 12.87,10.28 12.28,10.71 12.51,11.40 11.92,10.97 11.33,11.40 11.56,10.71 10.97,10.28 11.69,10.28" fill="#fff"/><polygon points="10.76,6.01 10.98,6.70 11.71,6.70 11.12,7.13 11.34,7.82 10.76,7.39 10.17,7.82 10.39,7.13 9.81,6.70 10.53,6.70" fill="#fff"/></g></g><rect x="103.25" y="1020.05" width="38.00" height="25.60" rx="2.2" fill="none" stroke="rgba(0,0,0,0.10)" stroke-width="0.7"/><rect x="102.00" y="1067.50" width="40.50" height="28.10" rx="3.3" fill="#fff" stroke="#e0e0e0" stroke-width="1.8"/><clipPath id="cvn"><rect x="102.90" y="1068.40" width="38.7" height="26.3" rx="2.4"/></clipPath><g clip-path="url(#cvn)"><g transform="translate(102.90 1068.40) scale(0.80625 0.82188)"><rect width="48" height="32" fill="#da2a24"/><polygon points="24.00,7.40 26.16,14.03 33.13,14.03 27.49,18.13 29.64,24.77 24.00,20.67 18.36,24.77 20.51,18.13 14.87,14.03 21.84,14.03" fill="#f8e03a"/></g></g><rect x="103.25" y="1068.75" width="38.00" height="25.60" rx="2.2" fill="none" stroke="rgba(0,0,0,0.10)" stroke-width="0.7"/><rect x="102.00" y="1116.20" width="40.50" height="28.10" rx="3.3" fill="#fff" stroke="#e0e0e0" stroke-width="1.8"/><clipPath id="cmn"><rect x="102.90" y="1117.10" width="38.7" height="26.3" rx="2.4"/></clipPath><g clip-path="url(#cmn)"><g transform="translate(102.90 1117.10) scale(0.80625 0.82188)"><rect width="48" height="32" fill="#c8283a"/><rect x="16" width="16" height="32" fill="#3a62b0"/><g fill="#f4a85a"><circle cx="8" cy="7.5" r="1.4"/><polygon points="8,3.5 9,6 7,6"/><path d="M5.5 11.5 A2.5 2.5 0 0 1 10.5 11.5Z"/><rect x="5" y="12.5" width="6" height="1.3"/><rect x="3.5" y="15" width="2" height="12"/><rect x="10.5" y="15" width="2" height="12"/><rect x="6.3" y="15" width="3.4" height="1.2"/><circle cx="8" cy="20" r="1.8"/><rect x="6.3" y="24" width="3.4" height="1.2"/></g></g></g><rect x="103.25" y="1117.45" width="38.00" height="25.60" rx="2.2" fill="none" stroke="rgba(0,0,0,0.10)" stroke-width="0.7"/></svg>
<div class="ht" style="left:8px">Rank</div>
<div class="ht" style="left:97px">Team/NOC</div>
<div class="ht" style="right:9px">Total</div>
<div class="row" style="top:80.80px"><div class="c rk">1</div><div class="c nm">People's Republic of China</div><div class="c n" style="left:926.3px">200</div><div class="c n" style="left:1031.1px">111</div><div class="c n" style="left:1113.1px">71</div><div class="c tot">382</div></div>
<div class="row" style="top:129.50px"><div class="c rk">2</div><div class="c nm">Japan</div><div class="c n" style="left:926.3px">51</div><div class="c n" style="left:1031.1px">66</div><div class="c n" style="left:1113.1px">69</div><div class="c tot">186</div></div>
<div class="row" style="top:178.20px"><div class="c rk">3</div><div class="c nm">Republic of Korea</div><div class="c n" style="left:926.3px">42</div><div class="c n" style="left:1031.1px">59</div><div class="c n" style="left:1113.1px">89</div><div class="c tot">190</div></div>
<div class="row" style="top:226.90px"><div class="c rk">4</div><div class="c nm">India</div><div class="c n" style="left:926.3px">28</div><div class="c n" style="left:1031.1px">38</div><div class="c n" style="left:1113.1px">41</div><div class="c tot">107</div></div>
<div class="row" style="top:275.60px"><div class="c rk">5</div><div class="c nm">Uzbekistan</div><div class="c n" style="left:926.3px">22</div><div class="c n" style="left:1031.1px">18</div><div class="c n" style="left:1113.1px">31</div><div class="c tot">71</div></div>
<div class="row" style="top:324.30px"><div class="c rk">6</div><div class="c nm">Chinese Taipei</div><div class="c n" style="left:926.3px">18</div><div class="c n" style="left:1031.1px">20</div><div class="c n" style="left:1113.1px">28</div><div class="c tot">66</div></div>
<div class="row" style="top:373.00px"><div class="c rk">7</div><div class="c nm">Islamic Republic of Iran</div><div class="c n" style="left:926.3px">13</div><div class="c n" style="left:1031.1px">21</div><div class="c n" style="left:1113.1px">19</div><div class="c tot">53</div></div>
<div class="row" style="top:421.70px"><div class="c rk">8</div><div class="c nm">Thailand</div><div class="c n" style="left:926.3px">12</div><div class="c n" style="left:1031.1px">14</div><div class="c n" style="left:1113.1px">32</div><div class="c tot">58</div></div>
<div class="row" style="top:470.40px"><div class="c rk">9</div><div class="c nm">Bahrain</div><div class="c n" style="left:926.3px">12</div><div class="c n" style="left:1031.1px">3</div><div class="c n" style="left:1113.1px">5</div><div class="c tot">20</div></div>
<div class="row" style="top:519.10px"><div class="c rk">10</div><div class="c nm">Democratic People's Republic of Korea</div><div class="c n" style="left:926.3px">11</div><div class="c n" style="left:1031.1px">18</div><div class="c n" style="left:1113.1px">10</div><div class="c tot">39</div></div>
<div class="row" style="top:567.80px"><div class="c rk">11</div><div class="c nm">Kazakhstan</div><div class="c n" style="left:926.3px">10</div><div class="c n" style="left:1031.1px">21</div><div class="c n" style="left:1113.1px">47</div><div class="c tot">78</div></div>
<div class="row" style="top:616.50px"><div class="c rk">12</div><div class="c nm">Hong Kong, China</div><div class="c n" style="left:926.3px">8</div><div class="c n" style="left:1031.1px">16</div><div class="c n" style="left:1113.1px">29</div><div class="c tot">53</div></div>
<div class="row" style="top:665.20px"><div class="c rk">13</div><div class="c nm">Indonesia</div><div class="c n" style="left:926.3px">7</div><div class="c n" style="left:1031.1px">11</div><div class="c n" style="left:1113.1px">18</div><div class="c tot">36</div></div>
<div class="row" style="top:713.90px"><div class="c rk">14</div><div class="c nm">Malaysia</div><div class="c n" style="left:926.3px">6</div><div class="c n" style="left:1031.1px">8</div><div class="c n" style="left:1113.1px">18</div><div class="c tot">32</div></div>
<div class="row" style="top:762.60px"><div class="c rk">15</div><div class="c nm">Qatar</div><div class="c n" style="left:926.3px">5</div><div class="c n" style="left:1031.1px">6</div><div class="c n" style="left:1113.1px">3</div><div class="c tot">14</div></div>
<div class="row" style="top:811.30px"><div class="c rk">16</div><div class="c nm">United Arab Emirates</div><div class="c n" style="left:926.3px">5</div><div class="c n" style="left:1031.1px">5</div><div class="c n" style="left:1113.1px">9</div><div class="c tot">19</div></div>
<div class="row" style="top:860.00px"><div class="c rk">17</div><div class="c nm">Philippines</div><div class="c n" style="left:926.3px">4</div><div class="c n" style="left:1031.1px">2</div><div class="c n" style="left:1113.1px">12</div><div class="c tot">18</div></div>
<div class="row" style="top:908.70px"><div class="c rk">18</div><div class="c nm">Kyrgyzstan</div><div class="c n" style="left:926.3px">4</div><div class="c n" style="left:1031.1px">2</div><div class="c n" style="left:1113.1px">9</div><div class="c tot">15</div></div>
<div class="row" style="top:957.40px"><div class="c rk">19</div><div class="c nm">Saudi Arabia</div><div class="c n" style="left:926.3px">4</div><div class="c n" style="left:1031.1px">2</div><div class="c n" style="left:1113.1px">4</div><div class="c tot">10</div></div>
<div class="row" style="top:1006.10px"><div class="c rk">20</div><div class="c nm">Singapore</div><div class="c n" style="left:926.3px">3</div><div class="c n" style="left:1031.1px">6</div><div class="c n" style="left:1113.1px">7</div><div class="c tot">16</div></div>
<div class="row" style="top:1054.80px"><div class="c rk">21</div><div class="c nm">Viet Nam</div><div class="c n" style="left:926.3px">3</div><div class="c n" style="left:1031.1px">5</div><div class="c n" style="left:1113.1px">19</div><div class="c tot">27</div></div>
<div class="row" style="top:1103.50px"><div class="c rk">22</div><div class="c nm">Mongolia</div><div class="c n" style="left:926.3px">3</div><div class="c n" style="left:1031.1px">5</div><div class="c n" style="left:1113.1px">13</div><div class="c tot">21</div></div>
</body></html>
